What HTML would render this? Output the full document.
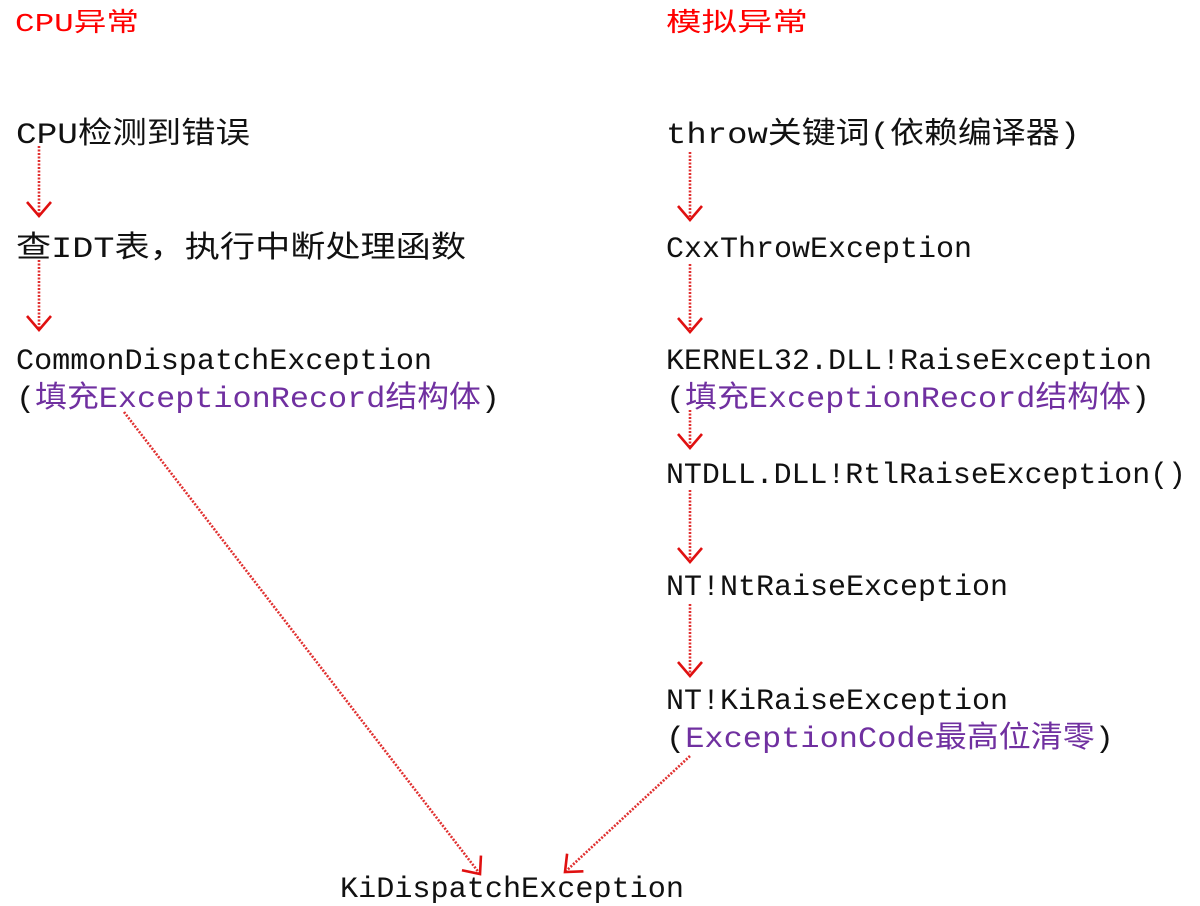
<!DOCTYPE html>
<html><head><meta charset="utf-8"><style>
html,body{margin:0;padding:0;background:#fff;width:1200px;height:906px;overflow:hidden}
svg text{font-family:"Liberation Mono","Noto Sans CJK SC",monospace;font-size:30px;fill:#111}
.r{fill:#f00}
.p{fill:#7030a0}
</style></head><body>
<svg width="1200" height="906" viewBox="0 0 1200 906" xmlns="http://www.w3.org/2000/svg">
<defs>
<marker id="a" markerWidth="34" markerHeight="34" refX="17" refY="17" orient="auto" markerUnits="userSpaceOnUse">
<path d="M3,5 L17,17 L3,29" fill="none" stroke="#e01010" stroke-width="2.6"/>
</marker>
</defs>
<text x="15" y="31" class="r" textLength="124" lengthAdjust="spacingAndGlyphs" style="font-size:26px">CPU异常</text>
<text x="666" y="31" class="r" textLength="142" lengthAdjust="spacingAndGlyphs" style="font-size:26px">模拟异常</text>

<text x="16" y="143" textLength="234" lengthAdjust="spacingAndGlyphs">CPU检测到错误</text>
<text x="16" y="257" textLength="450" lengthAdjust="spacingAndGlyphs">查IDT表，执行中断处理函数</text>
<text x="16" y="369" textLength="416" lengthAdjust="spacingAndGlyphs">CommonDispatchException</text>
<text x="16" y="407" textLength="484" lengthAdjust="spacingAndGlyphs">(<tspan class="p">填充ExceptionRecord结构体</tspan>)</text>

<text x="666" y="143" textLength="414" lengthAdjust="spacingAndGlyphs">throw关键词(依赖编译器)</text>
<text x="666" y="257" textLength="306" lengthAdjust="spacingAndGlyphs">CxxThrowException</text>
<text x="666" y="369" textLength="486" lengthAdjust="spacingAndGlyphs">KERNEL32.DLL!RaiseException</text>
<text x="666" y="407" textLength="484" lengthAdjust="spacingAndGlyphs">(<tspan class="p">填充ExceptionRecord结构体</tspan>)</text>
<text x="666" y="483" textLength="520" lengthAdjust="spacingAndGlyphs">NTDLL.DLL!RtlRaiseException()</text>
<text x="666" y="595" textLength="342" lengthAdjust="spacingAndGlyphs">NT!NtRaiseException</text>
<text x="666" y="709" textLength="342" lengthAdjust="spacingAndGlyphs">NT!KiRaiseException</text>
<text x="666" y="747" textLength="448" lengthAdjust="spacingAndGlyphs">(<tspan class="p">ExceptionCode最高位清零</tspan>)</text>

<text x="340" y="897" textLength="344" lengthAdjust="spacingAndGlyphs">KiDispatchException</text>

<g stroke="#e03030" stroke-width="2.6" stroke-dasharray="2,1.5" fill="none">
<line x1="39" y1="146" x2="39" y2="216" marker-end="url(#a)"/>
<line x1="39" y1="260" x2="39" y2="330" marker-end="url(#a)"/>
<line x1="690" y1="152" x2="690" y2="220" marker-end="url(#a)"/>
<line x1="690" y1="264" x2="690" y2="332" marker-end="url(#a)"/>
<line x1="690" y1="410" x2="690" y2="448" marker-end="url(#a)"/>
<line x1="690" y1="490" x2="690" y2="562" marker-end="url(#a)"/>
<line x1="690" y1="604" x2="690" y2="676" marker-end="url(#a)"/>
<line x1="124" y1="412" x2="480" y2="874" marker-end="url(#a)"/>
<line x1="690" y1="756" x2="565" y2="872" marker-end="url(#a)"/>
</g>
</svg>
</body></html>
